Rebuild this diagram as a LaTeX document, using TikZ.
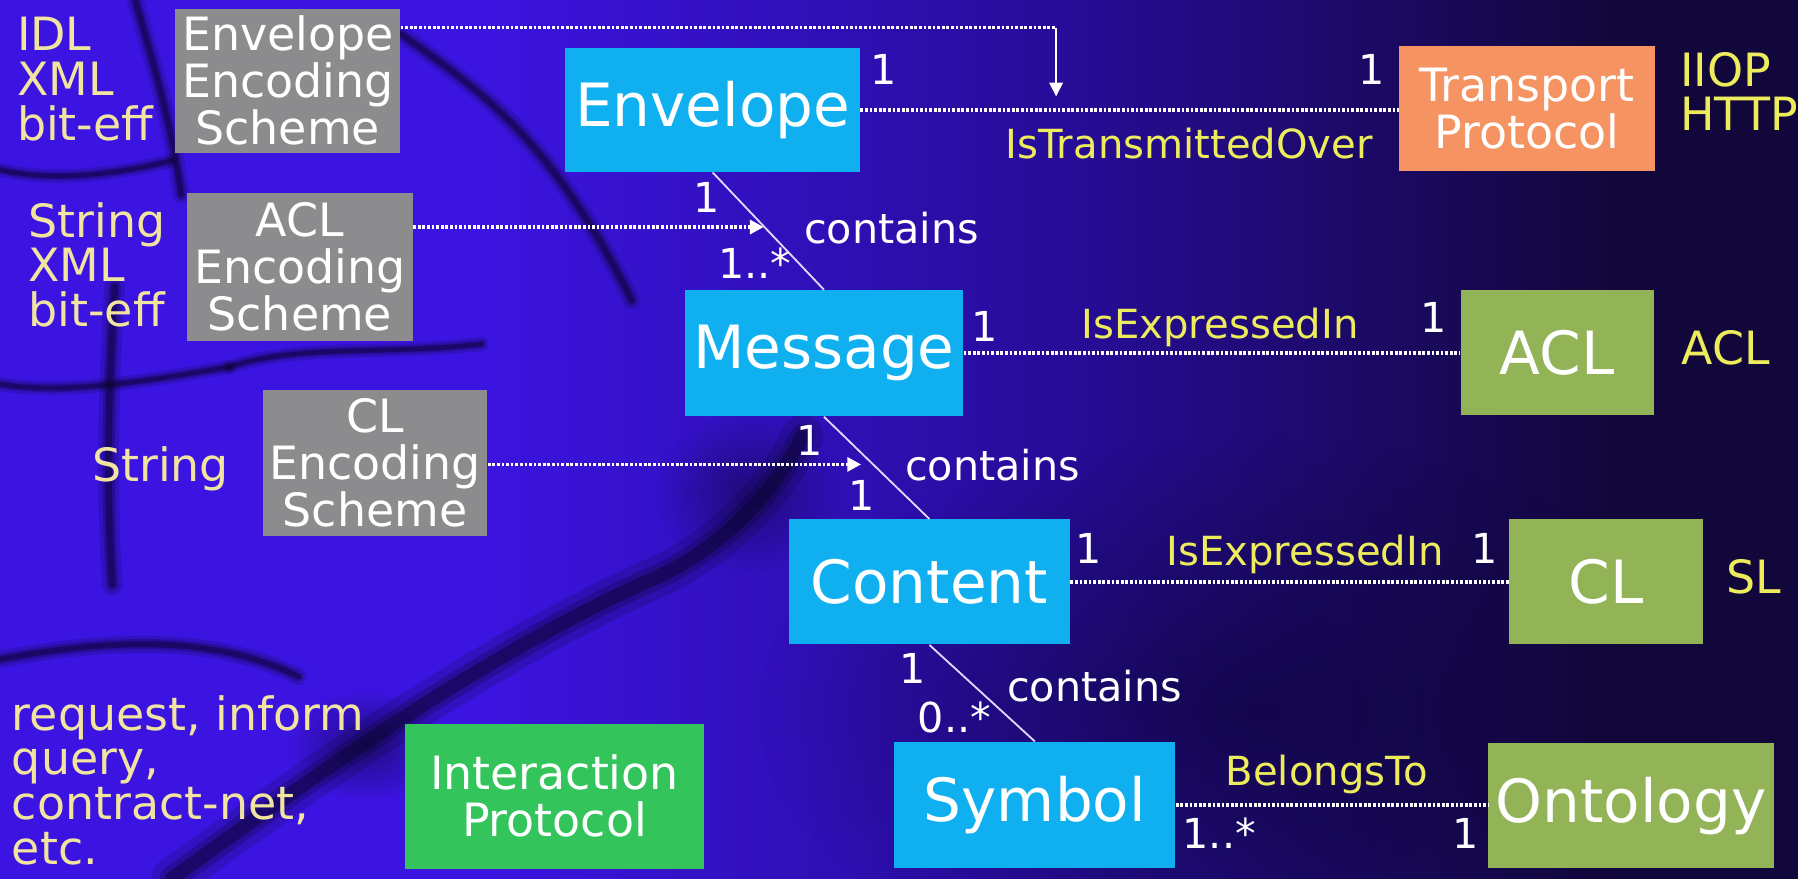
\documentclass[tikz,border=0pt]{standalone}
\usepackage{fontspec}
\setmainfont{DejaVu Sans}
\usetikzlibrary{arrows.meta,fadings}

\definecolor{bgA}{RGB}{60,20,226}
\definecolor{bgB}{RGB}{38,12,150}
\definecolor{bgC}{RGB}{18,7,58}
\definecolor{crack}{RGB}{10,4,42}
\definecolor{graybox}{RGB}{140,140,142}
\definecolor{cyanbox}{RGB}{16,176,240}
\definecolor{orangebox}{RGB}{245,148,98}
\definecolor{olivebox}{RGB}{146,179,86}
\definecolor{greenbox}{RGB}{52,196,92}
\definecolor{paleyellow}{RGB}{240,228,160}
\definecolor{relyellow}{RGB}{236,236,92}
\definecolor{linkcol}{RGB}{225,215,255}

\pgfdeclarehorizontalshading{bgshade}{100bp}{color(0bp)=(bgA); color(38bp)=(bgA); color(55bp)=(bgB); color(70bp)=(bgC); color(100bp)=(bgC)}
\tikzfading[name=softspot, inner color=transparent!0, outer color=transparent!100]

% a soft crack: a wide faint stroke under a narrower darker one
\newcommand{\softcrack}[2]{%
  \draw[crackline, line width=3*#1, opacity=0.18] #2;
  \draw[crackline, line width=1.8*#1, opacity=0.25] #2;
  \draw[crackline, line width=#1, opacity=0.45] #2;
}

\begin{document}
\begin{tikzpicture}[x=0.5pt,y=-0.5pt,
  box/.style={rectangle, inner sep=0pt, text=white, align=center},
  bigbox/.style={box, font=\fontsize{26}{28}\selectfont},
  smallbox/.style={box, font=\fontsize{20}{20.5}\selectfont},
  sidelabel/.style={inner sep=0pt, text=paleyellow, align=left, font=\fontsize{20}{19.5}\selectfont},
  protolabel/.style={inner sep=0pt, text=relyellow, align=left, font=\fontsize{20}{19.5}\selectfont},
  rel/.style={inner sep=0pt, text=relyellow, anchor=base, font=\fontsize{17.5}{18}\selectfont},
  mult/.style={inner sep=0pt, text=white, anchor=base, font=\fontsize{18}{18}\selectfont},
  assoc/.style={draw=white, line width=1.5pt, dash pattern=on 1.2pt off 0.8pt},
  feed/.style={assoc, -{Triangle[length=6pt,width=6pt]}},
  contain/.style={draw=linkcol, line width=0.8pt},
  crackline/.style={draw=crack, line cap=round, line join=round}
]
\useasboundingbox (0,0) rectangle (1568,766);

% background: cracked violet surface, darker towards the right
\shade[shading=bgshade] (0,0) rectangle (1568,766);
\fill[crack, path fading=softspot, fill opacity=0.55] (1080,620) ellipse (420 and 240);
\fill[crack, path fading=softspot, fill opacity=0.45] (650,430) ellipse (80 and 70);
\fill[crack, path fading=softspot, fill opacity=0.5] (320,650) ellipse (70 and 50);
\softcrack{2.5pt}{(118,0) .. controls (135,60) and (150,110) .. (158,170)}
\softcrack{2pt}{(0,148) .. controls (50,160) and (110,150) .. (150,140)}
\softcrack{3pt}{(100,250) .. controls (95,330) and (92,420) .. (98,510)}
\softcrack{2pt}{(0,335) .. controls (60,345) and (140,330) .. (200,320)}
\softcrack{2.5pt}{(350,30) .. controls (420,80) and (480,120) .. (551,262)}
\softcrack{6pt}{(150,766) .. controls (270,680) and (420,570) .. (580,500) .. controls (640,470) and (680,420) .. (700,380)}
\softcrack{2.5pt}{(0,575) .. controls (80,560) and (180,550) .. (260,590)}
\softcrack{2pt}{(200,320) .. controls (260,300) and (330,310) .. (420,300)}

% encoding schemes
\node[smallbox, fill=graybox, minimum width=98pt, minimum height=62.5pt] (ees) at (251,70.5) {Envelope\\Encoding\\Scheme};
\node[smallbox, fill=graybox, minimum width=98.5pt, minimum height=64.5pt] (aes) at (261.5,232.5) {ACL\\Encoding\\Scheme};
\node[smallbox, fill=graybox, minimum width=98pt, minimum height=63.5pt] (ces) at (327,403.5) {CL\\Encoding\\Scheme};

% message structure
\node[bigbox, fill=cyanbox, minimum width=128.5pt, minimum height=54pt] (env) at (621.5,96) {Envelope};
\node[bigbox, fill=cyanbox, minimum width=121.5pt, minimum height=55pt] (msg) at (718.5,308) {Message};
\node[bigbox, fill=cyanbox, minimum width=122.5pt, minimum height=54.5pt] (cnt) at (810.5,507.5) {Content};
\node[bigbox, fill=cyanbox, minimum width=122.5pt, minimum height=55pt] (sym) at (902.5,702) {Symbol};

% related concepts
\node[smallbox, fill=orangebox, minimum width=111.5pt, minimum height=54.5pt] (tp) at (1331.5,94.5) {Transport\\Protocol};
\node[bigbox, fill=olivebox, minimum width=84pt, minimum height=54.5pt] (acl) at (1358,307.5) {ACL};
\node[bigbox, fill=olivebox, minimum width=84.5pt, minimum height=54.5pt] (cl) at (1400.5,507.5) {CL};
\node[bigbox, fill=olivebox, minimum width=124.5pt, minimum height=54.5pt] (ont) at (1422.5,702.5) {Ontology};
\node[smallbox, fill=greenbox, minimum width=130.5pt, minimum height=63.5pt] (ip) at (483.5,694.5) {Interaction\\Protocol};

% example values
\node[sidelabel, anchor=north west] (idl) at (14.5,14.6) {IDL\\XML\\bit-eff};
\node[sidelabel, anchor=north west] (str1) at (24.5,176) {String\\XML\\bit-eff};
\node[sidelabel, anchor=base west] (str2) at (80,420) {String};
\node[sidelabel, anchor=north west] (req) at (10,606) {request, inform\\query,\\contract-net,\\etc.};
\node[protolabel, anchor=north west] (iiop) at (1465,45) {IIOP\\HTTP};
\node[protolabel, anchor=base west] (acllang) at (1466,318) {ACL};
\node[protolabel, anchor=base west] (sllang) at (1505,518) {SL};

% associations
\coordinate (eesbend) at (921,24);
\coordinate (eestip) at (921,84);
\draw[assoc] (ees.east |- eesbend) -- (eesbend);
\draw[draw=white, line width=0.7pt, -{Triangle[length=6pt,width=6pt]}] (eesbend) -- (eestip);
\draw[assoc] (env.east) -- (env.east -| tp.west);
\node[mult] (m1) at (771,74) {1};
\node[mult] (m2) at (1196,74) {1};
\node[rel] (transmit) at (1037,138) {IsTransmittedOver};

\coordinate (aestip) at (666,198);
\draw[feed] (aes.east |- aestip) -- (aestip);
\draw[contain] (env.south) -- (msg.north);
\node[mult] (m3) at (616,185) {1};
\node[mult, anchor=base west] (m4) at (626,243) {1..*};
\node[mult, anchor=base west] (c1) at (701,212) {contains};

\draw[assoc] (msg.east) -- (msg.east -| acl.west);
\node[mult] (m5) at (859,298) {1};
\node[mult] (m6) at (1250,290) {1};
\node[rel] (expr1) at (1064,295) {IsExpressedIn};

\coordinate (cestip) at (751,405);
\draw[feed] (ces.east |- cestip) -- (cestip);
\draw[contain] (msg.south) -- (cnt.north);
\node[mult] (m7) at (706,397) {1};
\node[mult] (m8) at (751,445) {1};
\node[mult, anchor=base west] (c2) at (789,419) {contains};

\draw[assoc] (cnt.east) -- (cnt.east -| cl.west);
\node[mult] (m9) at (949,491) {1};
\node[mult] (m10) at (1295,491) {1};
\node[rel] (expr2) at (1138,493) {IsExpressedIn};

\draw[contain] (cnt.south) -- (sym.north);
\node[mult] (m11) at (796,596) {1};
\node[mult, anchor=base west] (m12) at (800,639) {0..*};
\node[mult, anchor=base west] (c3) at (878,612) {contains};

\draw[assoc] (sym.east) -- (sym.east -| ont.west);
\node[rel] (belongs) at (1157,685) {BelongsTo};
\node[mult, anchor=base west] (m13) at (1031,740) {1..*};
\node[mult] (m14) at (1278,740) {1};
\end{tikzpicture}
\end{document}
